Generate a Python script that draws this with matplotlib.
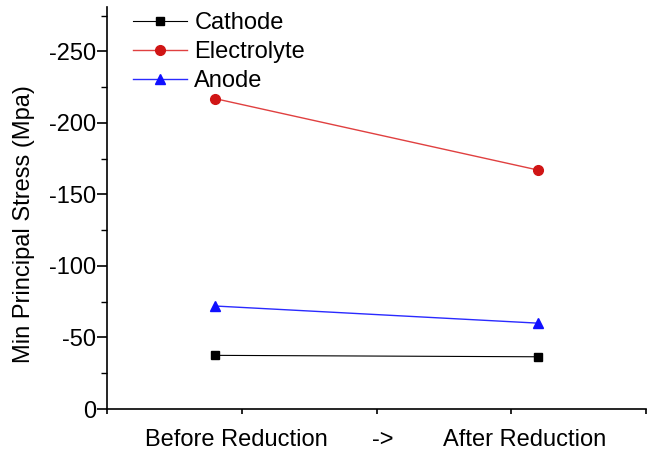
import matplotlib
matplotlib.use("Agg")
import matplotlib.pyplot as plt
import matplotlib.transforms as mtransforms
from matplotlib.ticker import MultipleLocator

plt.rcParams['font.family'] = ['Liberation Sans', 'DejaVu Sans']
plt.rcParams['axes.unicode_minus'] = False

# Data
stages_x = [0.8, 3.2]
cathode = [-37.5, -36.5]
electrolyte = [-217, -167]
anode = [-72, -60]
xtick_labels = ['Before Reduction', '->', 'After Reduction']
xlabel_pos = [0.96, 2.05, 3.10]

fig = plt.figure(figsize=(6.51, 4.55), dpi=100)
ax = fig.add_axes([107/651, 1-409/455, (646-107)/651, (409-7)/455])

fs = 17
ax.plot(stages_x, cathode, color='black', lw=0.8, marker='s', ms=6, label='Cathode')
ax.plot(stages_x, electrolyte, color='#e04040', lw=1.0, marker='o', ms=7,
        mfc='#d01515', mec='#d01515', label='Electrolyte')
ax.plot(stages_x, anode, color='#2a2aff', lw=1.0, marker='^', ms=7.5,
        mfc='#1010ff', mec='#1010ff', label='Anode')

ax.set_xlim(0, 4)
ax.set_ylim(0, -281)
ax.yaxis.set_major_locator(MultipleLocator(50))
ax.yaxis.set_minor_locator(MultipleLocator(25))
ax.set_xticks([0, 1, 2, 3, 4])
ax.set_xticklabels([])

for s in ['top', 'right']:
    ax.spines[s].set_visible(False)
for s in ['left', 'bottom']:
    ax.spines[s].set_linewidth(1.2)

ax.tick_params(axis='y', which='major', direction='out', length=7, width=1.2,
               labelsize=fs, pad=1)
ax.tick_params(axis='y', which='minor', direction='out', length=4, width=1.0)
ax.tick_params(axis='x', which='major', direction='out', length=3.5, width=1.2)

trans = mtransforms.blended_transform_factory(ax.transData, ax.transAxes)
for xp, lab in zip(xlabel_pos, xtick_labels):
    ax.text(xp, -0.077, lab, transform=trans, ha='center', va='center', fontsize=fs)

ax.set_ylabel('Min Principal Stress (Mpa)', fontsize=fs)
ax.yaxis.set_label_coords(-(107-35)/(646-107), (409-224)/(409-7))

leg = ax.legend(loc='upper left', bbox_to_anchor=(133/651, 1-12/455),
                bbox_transform=fig.transFigure, frameon=False, fontsize=fs,
                handlelength=2.3, handletextpad=0.3, labelspacing=0.3,
                borderpad=0, borderaxespad=0)

fig.savefig('out.png', dpi=100)
